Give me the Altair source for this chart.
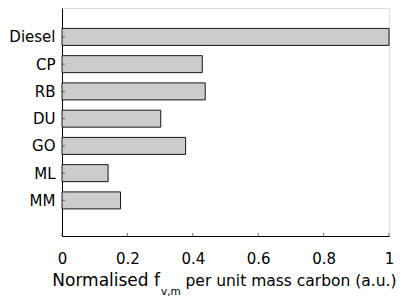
import altair as alt
import pandas as pd

categories = ["Diesel", "CP", "RB", "DU", "GO", "ML", "MM"]
values = [1.0, 0.429, 0.438, 0.302, 0.378, 0.141, 0.179]
x_ticks = [0, 0.2, 0.4, 0.6, 0.8, 1.0]

df = pd.DataFrame({"cat": categories, "val": values, "pos": list(range(1, len(categories) + 1))})
ticks_df = pd.DataFrame({"t": x_ticks})
yt_df = pd.DataFrame({"pos": list(range(1, len(categories) + 1))})

W, H = 327, 228
FONT = "DejaVu Sans"
label_expr = "[" + ",".join("'%s'" % c for c in categories) + "][datum.value-1]"

xscale = alt.Scale(domain=[0, 1], nice=False)
yscale = alt.Scale(domain=[0.123, 8.123], reverse=True, nice=False, zero=False)

xaxis = alt.Axis(values=x_ticks, format="~g", ticks=False, grid=False,
                 domainColor="#000000", domainWidth=1, labelPadding=15,
                 labelFont=FONT, labelFontSize=15, labelColor="#000000",
                 labelOverlap=False, labelFlush=False, title=None)
yaxis = alt.Axis(values=list(range(1, len(categories) + 1)), labelExpr=label_expr,
                 ticks=False, grid=False, domainColor="#000000", domainWidth=1,
                 labelPadding=7, labelFont=FONT, labelFontSize=15,
                 labelColor="#000000", labelOverlap=False, labelFlush=False,
                 labelBound=False, title=None)

bars = alt.Chart(df).mark_bar(orient="horizontal", size=17, fill="#cccccc",
                              stroke="#000000", strokeWidth=0.9).encode(
    x=alt.X("val:Q", scale=xscale, axis=xaxis),
    y=alt.Y("pos:Q", scale=yscale, axis=yaxis),
)

xt = alt.Chart(ticks_df).mark_tick(orient="vertical", size=3, thickness=1, color="#333333").encode(
    x=alt.X("t:Q", scale=xscale, axis=xaxis), y=alt.value(H - 1.5))
yt = alt.Chart(yt_df).mark_tick(orient="horizontal", size=3, thickness=1, color="#333333").encode(
    y=alt.Y("pos:Q", scale=yscale, axis=yaxis), x=alt.value(1.5))

t1 = alt.Chart(pd.DataFrame({"s": ["Normalised f"]})).mark_text(
    align="right", baseline="alphabetic", font=FONT, fontSize=17, color="#000000").encode(
    text="s:N", x=alt.value(98), y=alt.value(277.5))
t2 = alt.Chart(pd.DataFrame({"s": ["v,m"]})).mark_text(
    align="left", baseline="alphabetic", font=FONT, fontSize=10.5, color="#000000").encode(
    text="s:N", x=alt.value(99), y=alt.value(287))
t3 = alt.Chart(pd.DataFrame({"s": ["per unit mass carbon (a.u.)"]})).mark_text(
    align="left", baseline="alphabetic", font=FONT, fontSize=15.5, color="#000000").encode(
    text="s:N", x=alt.value(123.5), y=alt.value(277.5))

chart = alt.layer(bars, xt, yt, t1, t2, t3).properties(
    width=W, height=H,
    autosize=alt.AutoSizeParams(type="none"),
    padding={"left": 54, "top": 0, "right": 9, "bottom": 63},
).configure_view(stroke=None).configure(background="#ffffff")

chart.save("out.html", embed_options={"renderer": "svg", "actions": False})
